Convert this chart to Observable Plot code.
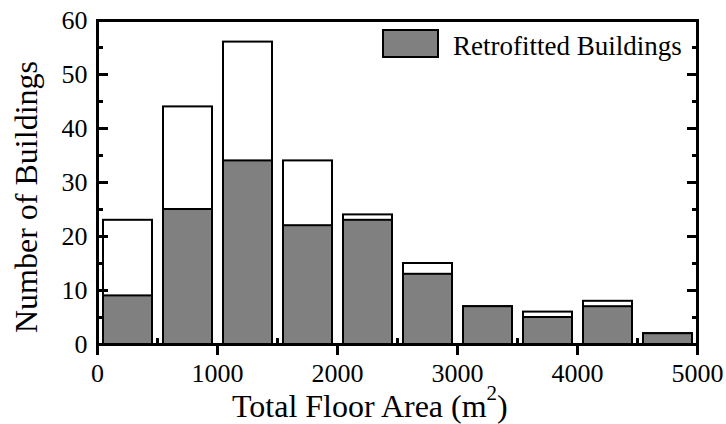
<!DOCTYPE html>
<html>
<head>
<meta charset="utf-8">
<script src="https://cdn.jsdelivr.net/npm/d3@7"></script>
<script src="https://cdn.jsdelivr.net/npm/@observablehq/plot@0.6"></script>
<style>
  html, body { margin: 0; padding: 0; background: #fff; }
  svg text { font-family: "Liberation Serif", "Times New Roman", Times, "DejaVu Serif", serif !important; }
</style>
</head>
<body>
<div id="chart"></div>
<script>
// ---- data ----
const binStart = [0, 500, 1000, 1500, 2000, 2500, 3000, 3500, 4000, 4500];
const binEnd = [500, 1000, 1500, 2000, 2500, 3000, 3500, 4000, 4500, 5000];
const totalBuildings = [23, 44, 56, 34, 24, 15, 7, 6, 8, 2];
const retrofittedBuildings = [9, 25, 34, 22, 23, 13, 7, 5, 7, 2];

const xMajorTicks = [0, 1000, 2000, 3000, 4000, 5000];
const xMinorTicks = [500, 1500, 2500, 3500, 4500];
const yMajorTicks = [0, 10, 20, 30, 40, 50, 60];
const yMinorTicks = [5, 15, 25, 35, 45, 55];

const xTitle = "Total Floor Area (m";
const xTitleSup = "2";
const xTitleEnd = ")";
const yTitle = "Number of Buildings";
const legendLabel = "Retrofitted Buildings";

const bins = binStart.map((s, i) => ({
  x1: s, x2: binEnd[i], total: totalBuildings[i], retro: retrofittedBuildings[i]
}));

const font = "\"Liberation Serif\", \"Times New Roman\", Times, \"DejaVu Serif\", serif";

const plot = Plot.plot({
  width: 726,
  height: 424,
  marginLeft: 97,
  marginRight: 29,
  marginTop: 20,
  marginBottom: 80,
  style: { fontFamily: font, fontSize: "26px", color: "black", background: "white", overflow: "visible" },
  x: { domain: [0, 5000] },
  y: { domain: [0, 60] },
  marks: [
    Plot.rectY(bins, { x1: "x1", x2: "x2", y: "total", fill: "white", stroke: "black", strokeWidth: 2, insetLeft: 6, insetRight: 5 }),
    Plot.rectY(bins, { x1: "x1", x2: "x2", y: "retro", fill: "#808080", stroke: "black", strokeWidth: 2, insetLeft: 6, insetRight: 5 }),
    Plot.frame({ stroke: "black", strokeWidth: 3 }),
    // left axis: labels + inward ticks
    Plot.axisY(yMajorTicks, { anchor: "left", tickSize: 0, tickPadding: 10, label: null, tickFormat: d => String(d), fontSize: 26 }),
    Plot.axisY(yMajorTicks, { anchor: "left", tickSize: -11, strokeWidth: 3, fill: "none", label: null }),
    Plot.axisY(yMinorTicks, { anchor: "left", tickSize: -6, strokeWidth: 3, fill: "none", label: null }),
    // right axis: inward ticks only
    Plot.axisY(yMajorTicks, { anchor: "right", tickSize: -11, strokeWidth: 3, fill: "none", label: null }),
    Plot.axisY(yMinorTicks, { anchor: "right", tickSize: -6, strokeWidth: 3, fill: "none", label: null }),
    // bottom axis: outward major ticks with labels, inward minor ticks
    Plot.axisX(xMajorTicks, { anchor: "bottom", tickSize: 11, tickPadding: 8, strokeWidth: 3, label: null, tickFormat: d => String(d), fontSize: 26 }),
    Plot.axisX(xMinorTicks, { anchor: "bottom", tickSize: -6, strokeWidth: 3, fill: "none", label: null })
  ]
});

document.getElementById("chart").appendChild(plot);

const svg = d3.select(plot);

// y-axis title
svg.append("text")
  .attr("transform", "translate(37,197) rotate(-90)")
  .attr("text-anchor", "middle")
  .attr("font-family", font)
  .attr("font-size", 32)
  .attr("fill", "black")
  .text(yTitle);

// x-axis title with superscript
const xt = svg.append("text")
  .attr("x", 232)
  .attr("y", 417)
  .attr("text-anchor", "start")
  .attr("font-family", font)
  .attr("font-size", 32)
  .attr("fill", "black");
xt.append("tspan").text(xTitle);
xt.append("tspan").attr("font-size", 21).attr("dx", 0).attr("dy", -17).text(xTitleSup);
xt.append("tspan").attr("dx", 0).attr("dy", 17).text(xTitleEnd);

// legend
const lg = svg.append("g");
lg.append("rect")
  .attr("x", 383).attr("y", 30).attr("width", 55).attr("height", 27)
  .attr("fill", "#808080").attr("stroke", "black").attr("stroke-width", 2);
lg.append("text")
  .attr("x", 453).attr("y", 55)
  .attr("text-anchor", "start")
  .attr("font-family", font)
  .attr("font-size", 27)
  .attr("fill", "black")
  .text(legendLabel);
</script>
</body>
</html>
